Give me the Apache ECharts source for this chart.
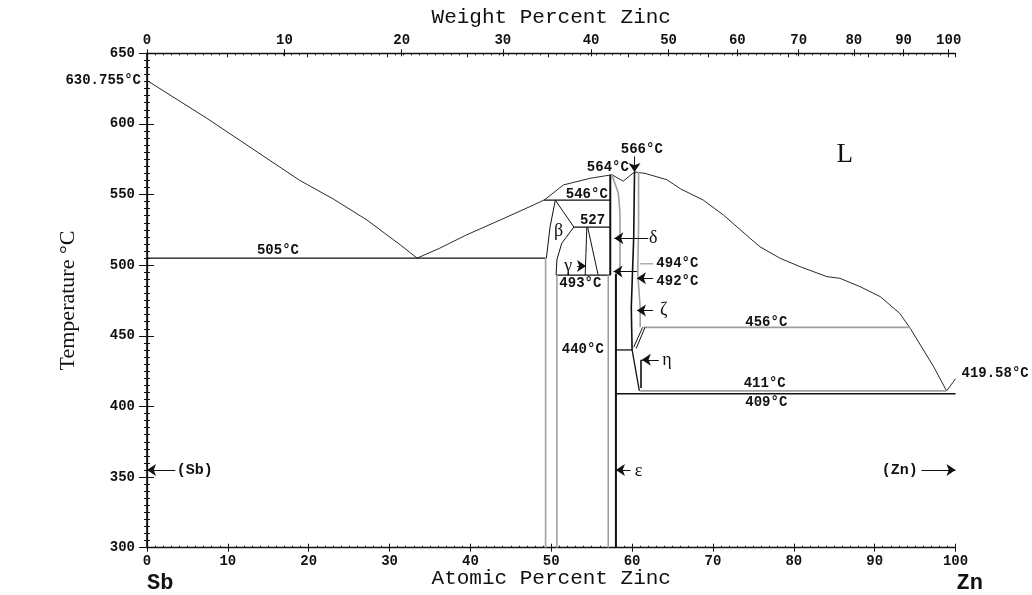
<!DOCTYPE html>
<html>
<head>
<meta charset="utf-8">
<script src="https://cdn.jsdelivr.net/npm/echarts/dist/echarts.min.js"></script>
<style>
  html, body { margin: 0; padding: 0; background: #fff; }
  #chart { width: 1032px; height: 595px; }
</style>
</head>
<body>
<div id="chart"></div>
<script>
// Sb–Zn phase diagram: temperature (°C) vs. atomic percent zinc

const atomicTicks = [0, 10, 20, 30, 40, 50, 60, 70, 80, 90, 100];
const weightTicks = [0, 10, 20, 30, 40, 50, 60, 70, 80, 90, 100];
const tempTicks = [300, 350, 400, 450, 500, 550, 600, 650];

// Liquidus, Sb side down to the 505 °C eutectic
const liquidusSb = [[0, 630.755], [7.4, 604], [18.9, 560], [23, 547], [27.2, 532], [31.3, 514.5], [33.4, 505]];
// Liquidus from the eutectic over the intermediate phases to pure Zn
const liquidusZn = [
  [33.4, 505], [36.2, 512], [39.5, 521.4], [43.7, 532], [47.8, 542.6], [49.2, 546.4],
  [51.5, 556.8], [54.8, 561.5], [57.5, 564], [58.9, 559.5], [60.3, 566], [61.6, 565],
  [64.3, 560.5], [66, 554], [68.8, 546.1], [71.3, 535.5], [74.6, 519], [75.8, 513.1],
  [78.3, 504.9], [80.8, 498.9], [84.1, 491.9], [85.7, 490.7], [88.2, 484.8], [90.7, 477.7],
  [93.1, 465.9], [94.4, 455.3], [97.3, 428.1], [98.9, 411], [100, 419.58]
];

// Invariant lines
const iso505 = [[0, 505], [49.3, 505]];
const iso546 = [[49.1, 546], [57.3, 546]];
const iso527 = [[52.8, 527], [57.3, 527]];
const iso493 = [[50.6, 493], [57.3, 493]];
const iso440 = [[58.0, 440], [60.0, 440]];
const iso456 = [[61.4, 456], [94.4, 456]];
const iso411 = [[61.0, 411], [98.9, 411]];
const iso409 = [[58.0, 409], [100, 409]];

// Phase boundaries
const betaLeft = [[50.5, 546], [49.85, 527], [49.4, 505]];
const betaRight = [[50.5, 546], [52.8, 527], [51.3, 515.5], [50.7, 504], [50.6, 493]];
const betaLeftLow = [[49.3, 505], [49.3, 300]];
const betaRightLow = [[50.7, 493], [50.7, 300]];
const gammaLeft = [[54.4, 527], [54.2, 493]];
const gammaRight = [[54.5, 527], [55.8, 493]];
const deltaLeft = [[57.3, 564], [57.3, 493]];
const deltaRight = [[57.5, 564], [58.3, 551], [58.5, 537], [58.5, 495]];
const epsLeft = [[57.05, 493], [57.05, 300]];
const epsRight = [[58.0, 494], [58.0, 300]];
const zetaLeft = [[60.3, 566], [60.2, 520], [59.9, 470], [60.0, 440]];
const zetaRight = [[60.8, 566], [60.8, 528], [60.7, 494], [61.0, 470], [61.0, 456]];
const etaLeft = [[60.0, 440], [60.9, 411]];
const etaRight = [[61.1, 433], [61.1, 413]];
const etaHatchA = [[60.2, 442], [61.3, 456]];
const etaHatchB = [[60.5, 441], [61.6, 456]];
const leader494 = [[61.0, 501], [62.6, 501]];

// Arrows: [tail, head]
const arrows = [
  [[3.5, 355], [0, 355]],
  [[59.8, 355], [58.0, 355]],
  [[95.8, 355], [100, 355]],
  [[62.0, 519], [57.8, 519]],
  [[53.2, 499.5], [54.3, 499.5]],
  [[60.3, 577], [60.3, 566]],
  [[60.6, 495.5], [57.7, 495.5]],
  [[62.6, 490.7], [60.6, 490.7]],
  [[62.6, 468], [60.6, 468]],
  [[63.3, 433], [61.2, 433]]
];

// Temperature annotations: [at.% Zn, °C, text]
const tempNotes = [
  [16.2, 510.2, '505°C'], [54.4, 550.2, '546°C'], [57.0, 569, '564°C'], [61.2, 581.6, '566°C'],
  [55.1, 532, '527'], [53.6, 487.2, '493°C'], [65.6, 501, '494°C'], [65.6, 488.3, '492°C'],
  [53.9, 440.5, '440°C'], [76.6, 459.3, '456°C'], [76.4, 416.4, '411°C'], [76.6, 402.9, '409°C']
];
// Phase labels
const phaseNotes = [
  [50.9, 524.2, 'β'], [52.1, 499.4, 'γ'], [62.6, 519, 'δ'], [63.9, 467.8, 'ζ'],
  [64.3, 432.9, 'η'], [60.8, 354.3, 'ε']
];
const solidNotes = [[5.9, 355, '(Sb)'], [93.1, 355, '(Zn)']];
const liquidLabel = [[86.3, 578, 'L']];
const meltingPoints = [[0, 630.755, '630.755°C'], [100, 419.58, '419.58°C']];
const endMembers = [[0, 300, 'Sb'], [100, 300, 'Zn']];

// ---- helpers ----
const weightToAtomic = w => {
  const zn = w / 65.38, sb = (100 - w) / 121.76;
  return 100 * zn / (zn + sb);
};
const weightAt = weightTicks.map(weightToAtomic);
const TOP_MAX = 100.85;

const MONO = '"Liberation Mono", "DejaVu Sans Mono", monospace';
const SERIF = '"Liberation Serif", "DejaVu Serif", serif';
const INK = '#111111';
const LINE = '#2a2a2a';
const GREY = '#a0a0a0';

function path(data, color, width) {
  return {
    type: 'line', data, symbol: 'none', showSymbol: false, silent: true,
    lineStyle: { color, width }, z: 3, clip: false
  };
}

function notes(data, font, extra) {
  return {
    type: 'scatter', symbolSize: 0, silent: true, z: 5, clip: false,
    itemStyle: { color: 'transparent', opacity: 1 },
    data: data.map(d => ({ value: d })),
    label: Object.assign({
      show: true, position: 'inside', formatter: p => p.data.value[2],
      color: INK, opacity: 1, textBorderWidth: 0, textBorderColor: 'transparent'
    }, font, extra || {})
  };
}

const chart = echarts.init(document.getElementById('chart'), null, { renderer: 'canvas' });

const tickFont = { fontFamily: MONO, fontSize: 14, fontWeight: 'bold', color: INK };

const option = {
  animation: false,
  backgroundColor: '#fff',
  grid: { left: 147, right: 76.5, top: 53.3, bottom: 47.3, containLabel: false, outerBoundsMode: 'none' },
  xAxis: [
    { // atomic percent, bottom
      type: 'value', position: 'bottom', min: 0, max: 100, interval: 10,
      axisLine: { show: true, lineStyle: { color: INK, width: 1.3 } },
      axisTick: { show: true, length: 4, lineStyle: { color: INK, width: 1 } },
      minorTick: { show: false },
      axisLabel: { ...tickFont, margin: 7, formatter: v => atomicTicks.includes(v) ? String(v) : '' },
      splitLine: { show: false },
      name: 'Atomic Percent Zinc', nameLocation: 'middle', nameGap: 20, nameMoveOverlap: false,
      nameTextStyle: { fontFamily: MONO, fontSize: 21, color: INK }
    },
    { // inner minor ticks along the bottom edge
      type: 'value', position: 'bottom', min: 0, max: 100, interval: 10,
      axisLine: { show: false }, axisLabel: { show: false }, splitLine: { show: false },
      axisTick: { show: true, inside: true, length: 4, lineStyle: { color: INK } },
      minorTick: { show: true, splitNumber: 10, length: 2, lineStyle: { color: INK } }
    },
    { // top edge: atomic grid ticks (inside)
      type: 'value', position: 'top', min: 0, max: TOP_MAX, interval: 10,
      axisLine: { show: true, lineStyle: { color: INK, width: 1.3 } },
      axisLabel: { show: false }, splitLine: { show: false },
      axisTick: { show: true, inside: true, length: 4, lineStyle: { color: INK } },
      minorTick: { show: true, splitNumber: 10, length: 2, lineStyle: { color: INK } }
    },
    { // top edge: weight percent scale
      type: 'value', position: 'top', min: 0, max: TOP_MAX,
      axisLine: { show: false }, splitLine: { show: false },
      axisTick: { show: true, length: 4, customValues: weightAt, lineStyle: { color: INK, width: 1 } },
      axisLabel: {
        ...tickFont, margin: 6, customValues: weightAt,
        formatter: v => {
          const i = weightAt.findIndex(a => Math.abs(a - v) < 1e-6);
          return i >= 0 ? String(weightTicks[i]) : '';
        }
      },
      name: 'Weight Percent Zinc', nameLocation: 'middle', nameGap: 25,
      nameTextStyle: { fontFamily: MONO, fontSize: 21, color: INK }
    },
    { // top edge: weight percent ticks reaching inward
      type: 'value', position: 'top', min: 0, max: TOP_MAX,
      axisLine: { show: false }, splitLine: { show: false }, axisLabel: { show: false },
      axisTick: { show: true, inside: true, length: 3, customValues: weightAt, lineStyle: { color: INK, width: 1 } }
    }
  ],
  yAxis: [
    {
      type: 'value', position: 'left', min: 300, max: 650, interval: 50,
      axisLine: { show: true, lineStyle: { color: INK, width: 1.6 } },
      axisTick: { show: true, length: 8, lineStyle: { color: INK, width: 1 } },
      minorTick: { show: true, splitNumber: 10, length: 3, lineStyle: { color: INK } },
      axisLabel: { ...tickFont, margin: 12, formatter: v => tempTicks.includes(v) ? String(v) : '' },
      splitLine: { show: false },
      name: 'Temperature °C', nameLocation: 'middle', nameGap: 68, nameRotate: 90,
      nameTextStyle: { fontFamily: SERIF, fontSize: 22, color: INK }
    },
    {
      type: 'value', position: 'right', min: 300, max: 650, interval: 50,
      axisLine: { show: true, lineStyle: { color: INK, width: 1.3 } },
      axisTick: { show: true, length: 7, lineStyle: { color: INK, width: 1 } },
      minorTick: { show: true, splitNumber: 10, length: 3, lineStyle: { color: INK } },
      axisLabel: { show: false }, splitLine: { show: false }
    }
  ],
  series: [
    path(liquidusSb, LINE, 1),
    path(liquidusZn, LINE, 1),
    path(iso505, INK, 1.3),
    path(iso546, INK, 1.3),
    path(iso527, INK, 1.3),
    path(iso493, INK, 1.3),
    path(iso440, INK, 1.3),
    path(iso456, GREY, 1.6),
    path(iso411, GREY, 1.6),
    path(iso409, INK, 1.4),
    path(betaLeft, INK, 1),
    path(betaRight, INK, 1),
    path(betaLeftLow, GREY, 1.6),
    path(betaRightLow, GREY, 1.6),
    path(gammaLeft, INK, 1),
    path(gammaRight, INK, 1),
    path(deltaLeft, INK, 2),
    path(deltaRight, GREY, 1.6),
    path(epsLeft, GREY, 1.6),
    path(epsRight, INK, 2),
    path(zetaLeft, INK, 1.6),
    path(zetaRight, GREY, 1.6),
    path(etaLeft, INK, 1.3),
    path(etaRight, INK, 1.6),
    path(etaHatchA, INK, 1),
    path(etaHatchB, INK, 1),
    path(leader494, GREY, 1.3),
    {
      type: 'lines', coordinateSystem: 'cartesian2d', silent: true, z: 4,
      symbol: ['none', 'arrow'], symbolSize: [5, 9],
      lineStyle: { color: INK, width: 1, opacity: 1 },
      data: arrows.map(a => ({ coords: a }))
    },
    notes(tempNotes, tickFont),
    notes(phaseNotes, { fontFamily: SERIF, fontSize: 18 }),
    notes(solidNotes, { fontFamily: MONO, fontSize: 15, fontWeight: 'bold' }),
    notes(liquidLabel, { fontFamily: SERIF, fontSize: 27 }),
    {
      type: 'scatter', symbolSize: 0, silent: true, z: 5, clip: false,
      itemStyle: { color: 'transparent', opacity: 1 },
      data: [
        { value: meltingPoints[0], label: { position: 'left', distance: 6 } },
        { value: meltingPoints[1], label: { position: 'right', distance: 6, offset: [0, -5] } }
      ],
      label: { show: true, formatter: p => p.data.value[2], ...tickFont, opacity: 1, textBorderWidth: 0 }
    },
    {
      type: 'scatter', symbolSize: 0, silent: true, z: 5, clip: false,
      itemStyle: { color: 'transparent', opacity: 1 },
      data: [
        { value: endMembers[0], label: { align: 'left', offset: [0, 36] } },
        { value: endMembers[1], label: { align: 'left', offset: [1, 36] } }
      ],
      label: {
        show: true, position: 'inside', formatter: p => p.data.value[2],
        fontFamily: MONO, fontSize: 22, fontWeight: 'bold', color: INK, opacity: 1, textBorderWidth: 0
      }
    }
  ]
};

chart.setOption(option);
</script>
</body>
</html>
